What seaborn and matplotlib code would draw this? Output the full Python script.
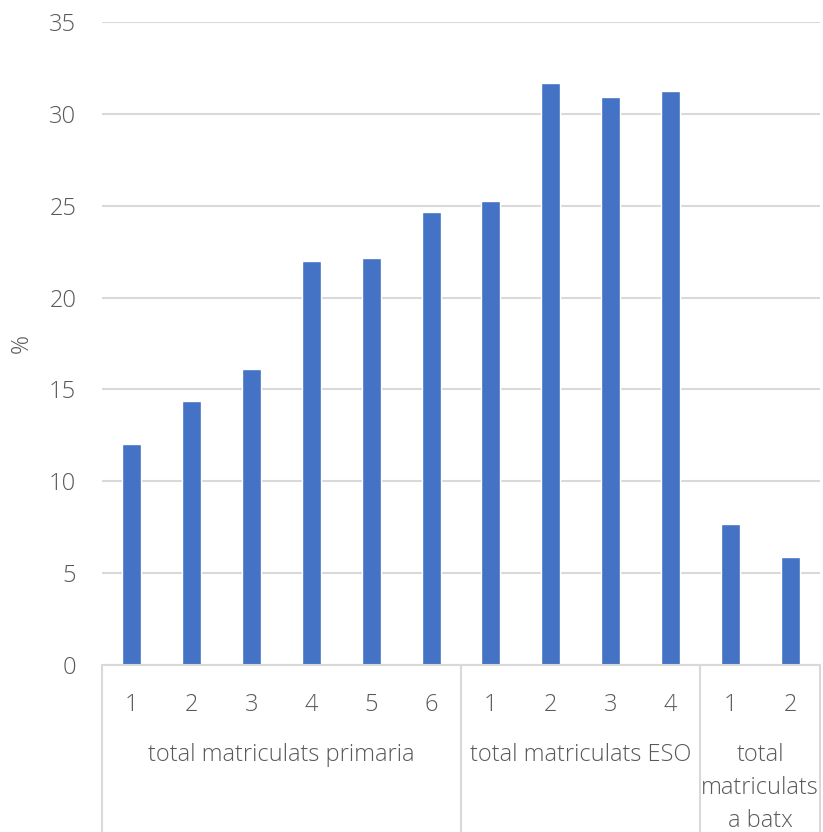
import numpy as np
import pandas as pd
import seaborn as sns
import matplotlib.pyplot as plt
import matplotlib.transforms as mtransforms

sns.set_theme(style="white")
plt.rcParams["font.family"] = ["Open Sans", "DejaVu Sans"]

# data
groups = ["total matriculats primaria", "total matriculats ESO", "total\nmatriculats\na batx"]
group_sizes = [6, 4, 2]
levels = ["1", "2", "3", "4", "5", "6", "1", "2", "3", "4", "1", "2"]
values = [12.03, 14.37, 16.11, 21.99, 22.15, 24.66, 25.28, 31.66, 30.94, 31.24, 7.66, 5.88]

bar_color = "#4472C4"
text_color = "#595959"
line_color = "#D9D9D9"
fs = 17

df = pd.DataFrame({"pos": np.arange(len(values)), "level": levels, "value": values})

fig = plt.figure(figsize=(8.23, 8.32), dpi=100)
ax = fig.add_axes([0.1239, 0.2007, 0.8725, 0.7729])

sns.barplot(data=df, x="pos", y="value", color=bar_color, width=0.32,
            saturation=1, ax=ax)

ax.set_ylim(0, 35)
ax.set_xlim(-0.5, len(values) - 0.5)
ax.set_yticks(range(0, 36, 5))
ax.yaxis.grid(True, color=line_color, linewidth=1.5)
ax.set_axisbelow(True)
for s in ["left", "right", "top"]:
    ax.spines[s].set_visible(False)
ax.spines["bottom"].set_color(line_color)
ax.spines["bottom"].set_linewidth(1.5)

ax.tick_params(axis="y", length=0, pad=18.5, labelsize=fs, labelcolor=text_color)
ax.tick_params(axis="x", length=0, pad=20, labelsize=fs, labelcolor=text_color)
ax.set_xticks(df["pos"])
ax.set_xticklabels(df["level"])
for lab in ax.get_xticklabels() + ax.get_yticklabels():
    lab.set_fontweight("light")
ax.set_xlabel("")
ax.set_ylabel("%", fontsize=fs, color=text_color, fontweight="light", va="center")
ax.yaxis.set_label_coords(-80 / 718, 0.5)

# group labels and separators below the axis
trans = mtransforms.blended_transform_factory(ax.transData, ax.transAxes)
bottom = -0.2007 / 0.7729
start = 0
bounds = [-0.5]
for g, n in zip(groups, group_sizes):
    center = start + (n - 1) / 2
    ax.text(center, -0.122, g, transform=trans, ha="center", va="top",
            fontsize=fs, color=text_color, fontweight="light", linespacing=1.5)
    start += n
    bounds.append(start - 0.5)
for b in bounds:
    ax.plot([b, b], [0, bottom], transform=trans, color=line_color,
            linewidth=1.5, clip_on=False)

fig.savefig("out.png", dpi=100)
